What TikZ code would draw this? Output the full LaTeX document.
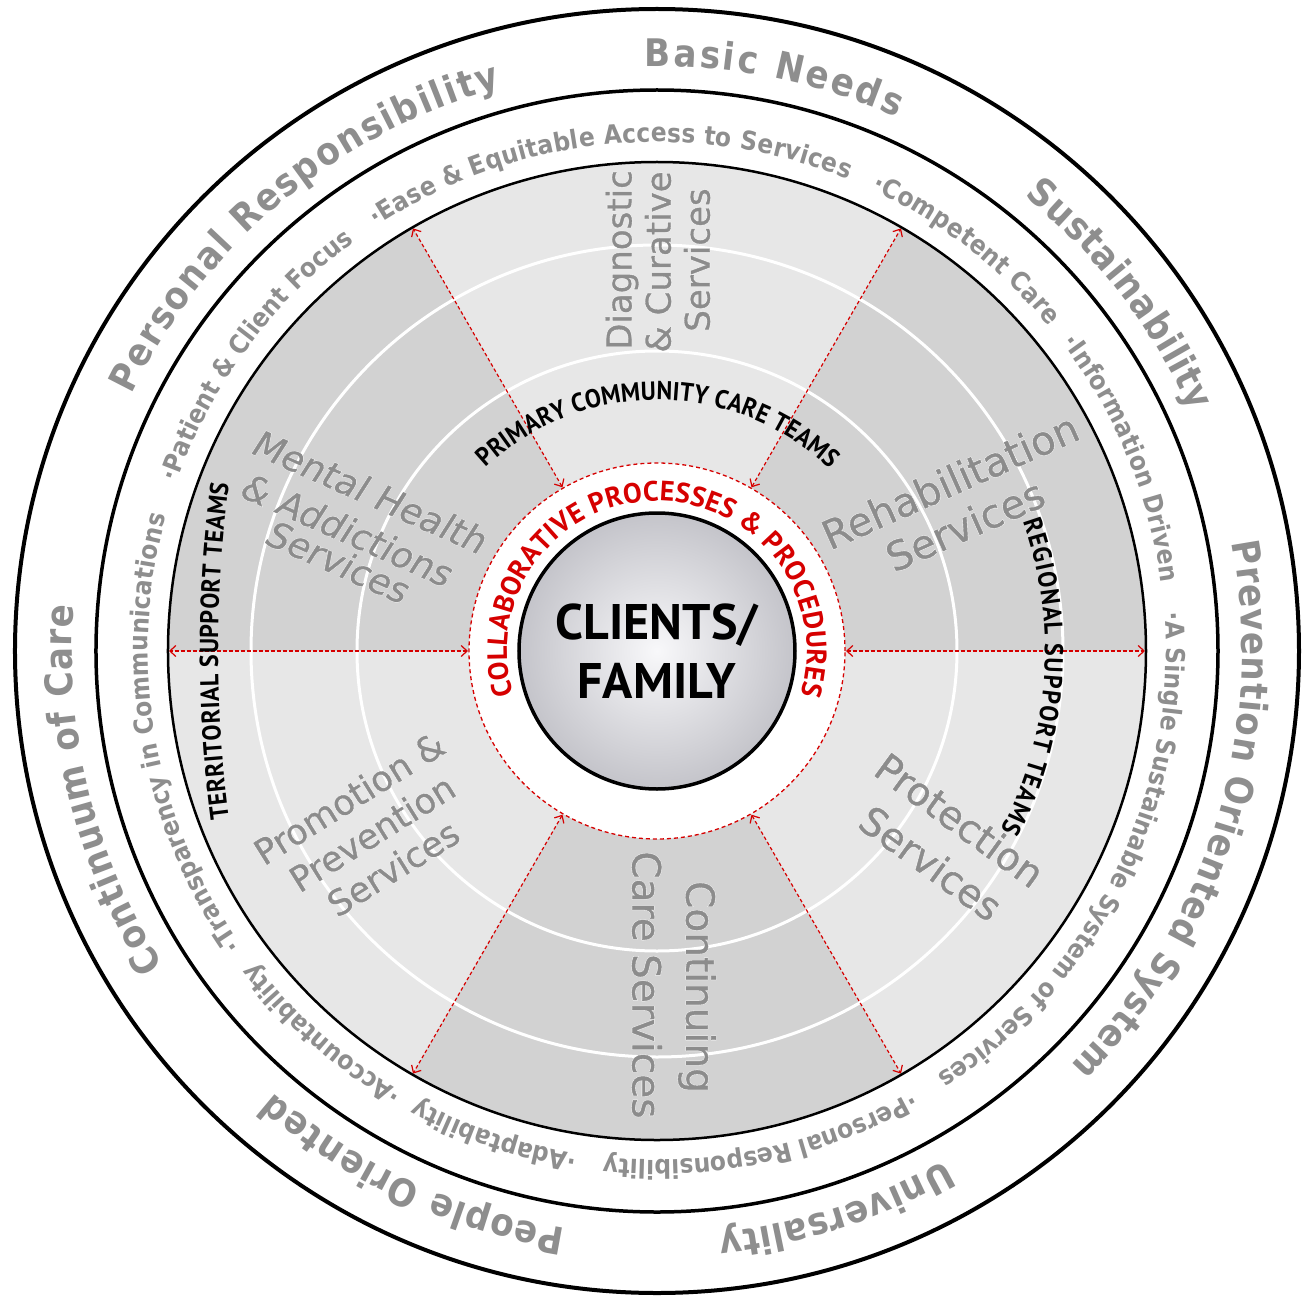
\documentclass[tikz,border=0pt]{standalone}
\usepackage{fontspec}
\setmainfont{PT Sans}
\newfontfamily\ringf[FakeStretch=0.9]{DejaVu Sans}
\newfontfamily\teamfam[FakeStretch=0.92]{PT Sans}
\newfontfamily\lblF[FakeBold=1]{DejaVu Sans}
\newfontfamily\haloF[FakeBold=3]{DejaVu Sans}
\usetikzlibrary{decorations.text,arrows.meta}
\definecolor{darksec}{RGB}{210,210,210}
\definecolor{lightsec}{RGB}{231,231,231}
\definecolor{txtgray}{RGB}{142,142,142}
\definecolor{lblgray}{RGB}{140,140,140}
\definecolor{myred}{RGB}{214,0,0}
\definecolor{cin}{RGB}{248,248,250}
\definecolor{cout}{RGB}{196,196,202}
\newcommand{\outf}{\ringf\bfseries\fontsize{38}{38}\selectfont}
\newcommand{\midf}{\ringf\bfseries\fontsize{26}{26}\selectfont}
\newcommand{\redf}{\bfseries\fontsize{28}{28}\selectfont}
\newcommand{\teamf}{\teamfam\bfseries\fontsize{26}{26}\selectfont}
% radius, start angle, end angle, colour, format, text
\newcommand{\arctext}[6]{%
  \path[decorate,decoration={text along path,text align=fit to path,text color=#4,text={|#5|#6}}]
    (#2:#1) arc[start angle=#2,end angle=#3,radius=#1];}
% name, position, rotation, size, slant, text
\newcommand{\seclabel}[6]{%
  \node[inner sep=0pt,text=white,rotate=#3,xslant=#5,font=\haloF\fontsize{#4}{#4}\selectfont] (#1h) at #2 {#6};
  \node[inner sep=0pt,text=lblgray,rotate=#3,xslant=#5,font=\lblF\fontsize{#4}{#4}\selectfont] (#1) at #2 {#6};}
\tikzset{
  spoke/.style={myred,line width=1.2pt,dash pattern=on 3.5pt off 2.5pt,
    {Straight Barb[length=6pt,width=11pt]}-{Straight Barb[length=6pt,width=11pt]}},
}
\begin{document}
\begin{tikzpicture}[x=1pt,y=1pt]
\useasboundingbox (-657,-651) rectangle (652,651);
\fill[white] (-657,-651) rectangle (652,651);
% sectors
\foreach \a/\c in {0/darksec,60/lightsec,120/darksec,180/lightsec,240/darksec,300/lightsec}
  \fill[\c] (0,0) -- (\a:489) arc[start angle=\a,end angle=\a+60,radius=489] -- cycle;
\draw[white,line width=3pt] (0,0) circle (300) (0,0) circle (406);
\fill[white] (0,0) circle (188);
\draw[myred,line width=1.3pt,dash pattern=on 4pt off 3pt] (0,0) circle (188);
% centre
\shade[inner color=cin,outer color=cout] (0,0) circle (138);
\draw[line width=3.5pt] (0,0) circle (138);
\node[align=center,font=\bfseries\fontsize{50}{59}\selectfont,inner sep=0pt] (clients) at (0,0) {CLIENTS/\\FAMILY};
% spokes
\foreach \a in {0,60,...,300}{
  \coordinate (i\a) at (\a:189);
  \coordinate (o\a) at (\a:488);
  \draw[spoke] (i\a) -- (o\a);
}
% rings
\draw[line width=4pt] (0,0) circle (642);
\draw[line width=3.5pt] (0,0) circle (561);
\draw[line width=2.5pt] (0,0) circle (489);
% outer principles
\arctext{585}{91.2}{65.8}{txtgray}{\outf}{Basic Needs}
\arctext{585}{51.1}{24.1}{txtgray}{\outf}{Sustainability}
\arctext{585}{10.7}{-45}{txtgray}{\outf}{Prevention Oriented System}
\arctext{585}{-60.5}{-84}{txtgray}{\outf}{Universality}
\arctext{585}{261}{229}{txtgray}{\outf}{People Oriented}
\arctext{585}{212.5}{175.5}{txtgray}{\outf}{Continuum of Care}
\arctext{585}{154}{105.5}{txtgray}{\outf}{Personal Responsibility}
% middle ring
\arctext{509}{123.5}{68}{txtgray}{\midf}{·Ease {\&} Equitable Access to Services}
\arctext{509}{65.1}{39.6}{txtgray}{\midf}{·Competent Care}
\arctext{509}{37.3}{7.7}{txtgray}{\midf}{·Information Driven}
\arctext{509}{4.3}{-56}{txtgray}{\midf}{·A Single Sustainable System of Services}
\arctext{509}{-60}{-96}{txtgray}{\midf}{·Personal Responsibility}
\arctext{509}{-99}{-118}{txtgray}{\midf}{·Adaptability}
\arctext{509}{-120}{-142}{txtgray}{\midf}{·Accountability}
\arctext{509}{215.4}{164.6}{txtgray}{\midf}{·Transparency in Communications}
\arctext{509}{160.7}{126.5}{txtgray}{\midf}{·Patient {\&} Client Focus}
% collaborative
\arctext{150}{197}{-17}{myred}{\redf}{COLLABORATIVE PROCESSES {\&} PROCEDURES}
% teams
\arctext{251}{133}{46.5}{black}{\teamf}{PRIMARY COMMUNITY CARE TEAMS}
\arctext{388}{19.5}{-27.5}{black}{\teamf}{REGIONAL SUPPORT TEAMS}
\path[decorate,decoration={text along path,text align=fit to path,text color=black,text={|\teamf|TERRITORIAL SUPPORT TEAMS}}]
  (841,0) ++(187.5:1280) arc[start angle=187.5,end angle=172.5,radius=1280];
% sector labels
\seclabel{mh1}{(-286,159)}{-24}{36}{0.15}{Mental Health}
\seclabel{mh2}{(-309,121)}{-24}{36}{0.15}{\& Addictions}
\seclabel{mh3}{(-318,89)}{-24}{36}{0.15}{Services}
\seclabel{rh1}{(293,170)}{24}{40}{0}{Rehabilitation}
\seclabel{rh2}{(308,126)}{24}{40}{0}{Services}
\seclabel{pp1}{(-308,-147)}{32}{35}{0}{Promotion \&}
\seclabel{pp2}{(-285,-182)}{32}{35}{0}{Prevention}
\seclabel{pp3}{(-264,-217)}{32}{35}{0}{Services}
\seclabel{pr1}{(303,-169)}{-36}{39}{0}{Protection}
\seclabel{pr2}{(274,-212)}{-36}{39}{0}{Services}
\seclabel{dc1}{(-35,391)}{90}{34}{0}{Diagnostic}
\seclabel{dc2}{(1,389)}{90}{34}{0}{\& Curative}
\seclabel{dc3}{(40,391)}{90}{34}{0}{Services}
\seclabel{cc1}{(40,-336)}{-90}{39}{0}{Continuing}
\seclabel{cc2}{(-10,-334)}{-90}{39}{0}{Care Services}
\end{tikzpicture}
\end{document}
